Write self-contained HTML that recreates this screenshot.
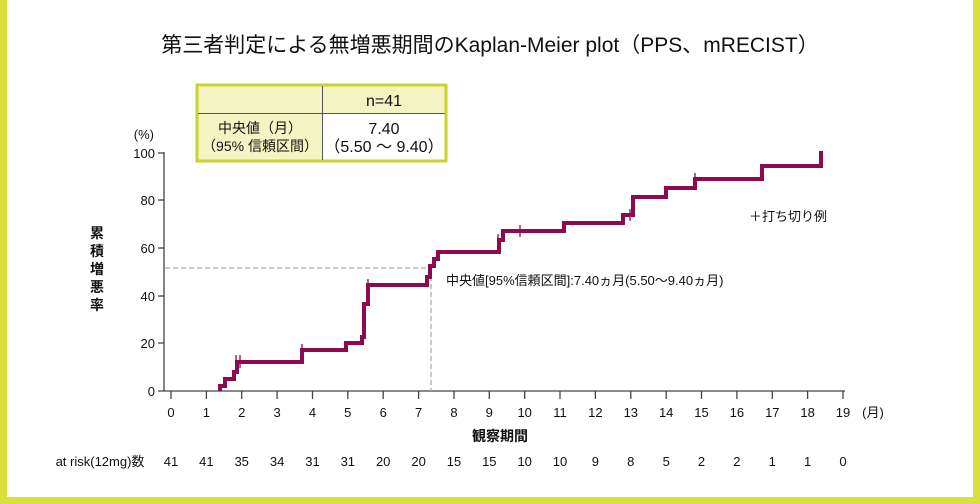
<!DOCTYPE html>
<html><head><meta charset="utf-8"><style>
body{margin:0;width:980px;height:504px;overflow:hidden;background:#d8e03a;}
svg{position:absolute;left:0;top:0}
text{font-family:"Liberation Sans","Noto Sans CJK JP",sans-serif;fill:#111}
</style></head><body>
<svg width="980" height="504" viewBox="0 0 980 504">
<rect x="7" y="0" width="966" height="497" fill="#fff"/>
<text x="490" y="52" font-size="21" text-anchor="middle">第三者判定による無増悪期間のKaplan-Meier plot（PPS、mRECIST）</text>
<!-- table -->
<rect x="197" y="85" width="249" height="76" fill="#fff" stroke="#c9d330" stroke-width="3"/>
<rect x="198.5" y="86.5" width="246" height="27" fill="#f4f3c4"/>
<rect x="198.5" y="113.5" width="124" height="46" fill="#f4f3c4"/>
<line x1="198" y1="113.5" x2="445" y2="113.5" stroke="#555" stroke-width="1"/>
<line x1="322.5" y1="86" x2="322.5" y2="160" stroke="#555" stroke-width="1"/>
<text x="384" y="106" font-size="16" text-anchor="middle">n=41</text>
<text x="260" y="133" font-size="14" text-anchor="middle">中央値（月）</text>
<text x="260" y="151" font-size="14" text-anchor="middle">（95% 信頼区間）</text>
<text x="384" y="134" font-size="16" text-anchor="middle">7.40</text>
<text x="384" y="152" font-size="16" text-anchor="middle">（5.50 ～ 9.40）</text>
<!-- axes -->
<g stroke="#444" stroke-width="1.3" fill="none">
<line x1="164" y1="152" x2="164" y2="391"/>
<line x1="158" y1="391" x2="845" y2="391"/>
<line x1="158" y1="153" x2="164" y2="153"/>
<line x1="158" y1="200" x2="164" y2="200"/>
<line x1="158" y1="248" x2="164" y2="248"/>
<line x1="158" y1="296" x2="164" y2="296"/>
<line x1="158" y1="343" x2="164" y2="343"/>
</g>
<g font-size="13" text-anchor="end">
<text x="155" y="158">100</text><text x="155" y="205">80</text><text x="155" y="253">60</text><text x="155" y="301">40</text><text x="155" y="348">20</text><text x="155" y="396">0</text>
<text x="154" y="139">(%)</text>
</g>
<g font-size="14" text-anchor="middle" font-weight="bold">
<text x="97" y="238">累</text><text x="97" y="256">積</text><text x="97" y="274">増</text><text x="97" y="292">悪</text><text x="97" y="310">率</text>
</g>
<g id="ticks" stroke="#444" stroke-width="1.3">
<line x1="171" y1="391" x2="171" y2="399"/><line x1="206.4" y1="391" x2="206.4" y2="399"/><line x1="241.7" y1="391" x2="241.7" y2="399"/><line x1="277.1" y1="391" x2="277.1" y2="399"/><line x1="312.5" y1="391" x2="312.5" y2="399"/><line x1="347.8" y1="391" x2="347.8" y2="399"/><line x1="383.2" y1="391" x2="383.2" y2="399"/><line x1="418.6" y1="391" x2="418.6" y2="399"/><line x1="454" y1="391" x2="454" y2="399"/><line x1="489.3" y1="391" x2="489.3" y2="399"/><line x1="524.7" y1="391" x2="524.7" y2="399"/><line x1="560" y1="391" x2="560" y2="399"/><line x1="595.4" y1="391" x2="595.4" y2="399"/><line x1="630.8" y1="391" x2="630.8" y2="399"/><line x1="666.2" y1="391" x2="666.2" y2="399"/><line x1="701.5" y1="391" x2="701.5" y2="399"/><line x1="736.9" y1="391" x2="736.9" y2="399"/><line x1="772.3" y1="391" x2="772.3" y2="399"/><line x1="807.6" y1="391" x2="807.6" y2="399"/><line x1="843" y1="391" x2="843" y2="399"/>
</g>
<g font-size="13" text-anchor="middle">
<text x="171" y="417">0</text><text x="206.4" y="417">1</text><text x="241.7" y="417">2</text><text x="277.1" y="417">3</text><text x="312.5" y="417">4</text><text x="347.8" y="417">5</text><text x="383.2" y="417">6</text><text x="418.6" y="417">7</text><text x="454" y="417">8</text><text x="489.3" y="417">9</text><text x="524.7" y="417">10</text><text x="560" y="417">11</text><text x="595.4" y="417">12</text><text x="630.8" y="417">13</text><text x="666.2" y="417">14</text><text x="701.5" y="417">15</text><text x="736.9" y="417">16</text><text x="772.3" y="417">17</text><text x="807.6" y="417">18</text><text x="843" y="417">19</text>
<text x="873" y="417">(月)</text>
<text x="500" y="441" font-size="14" font-weight="bold">観察期間</text>
</g>
<g font-size="13" text-anchor="middle">
<text x="100" y="466">at risk(12mg)数</text>
<text x="171" y="466">41</text><text x="206.4" y="466">41</text><text x="241.7" y="466">35</text><text x="277.1" y="466">34</text><text x="312.5" y="466">31</text><text x="347.8" y="466">31</text><text x="383.2" y="466">20</text><text x="418.6" y="466">20</text><text x="454" y="466">15</text><text x="489.3" y="466">15</text><text x="524.7" y="466">10</text><text x="560" y="466">10</text><text x="595.4" y="466">9</text><text x="630.8" y="466">8</text><text x="666.2" y="466">5</text><text x="701.5" y="466">2</text><text x="736.9" y="466">2</text><text x="772.3" y="466">1</text><text x="807.6" y="466">1</text><text x="843" y="466">0</text>
</g>
<!-- median dashes -->
<g stroke="#aaa" stroke-width="1.3" stroke-dasharray="5,3" fill="none">
<line x1="165" y1="268" x2="432" y2="268"/>
<line x1="431" y1="268" x2="431" y2="391"/>
</g>
<!-- curve -->
<path d="M220,391 V386 H225 V379 H234 V372 H237 V362 H302 V350 H346 V343 H362 V337 H364 V304 H368 V285 H427 V277 H430 V266 H434 V259 H438 V252 H499 V240 H503 V231 H564 V223 H623 V215 H633 V197 H666 V188 H695 V179 H762 V166 H821 V151" fill="none" stroke="#8e0a4e" stroke-width="4"/>
<g stroke="#8e0a4e" stroke-width="1.3">
<line x1="236" y1="355" x2="236" y2="368"/><line x1="240" y1="355" x2="240" y2="368"/>
<line x1="302" y1="344" x2="302" y2="356"/><line x1="368" y1="279" x2="368" y2="291"/>
<line x1="498" y1="234" x2="498" y2="246"/><line x1="520" y1="225" x2="520" y2="237"/>
<line x1="630" y1="209" x2="630" y2="221"/><line x1="695" y1="173" x2="695" y2="185"/>
</g>
<text x="446" y="285" font-size="13">中央値[95%信頼区間]:7.40ヵ月(5.50〜9.40ヵ月)</text>
<text x="749" y="221" font-size="13">＋打ち切り例</text>
</svg>
</body></html>
